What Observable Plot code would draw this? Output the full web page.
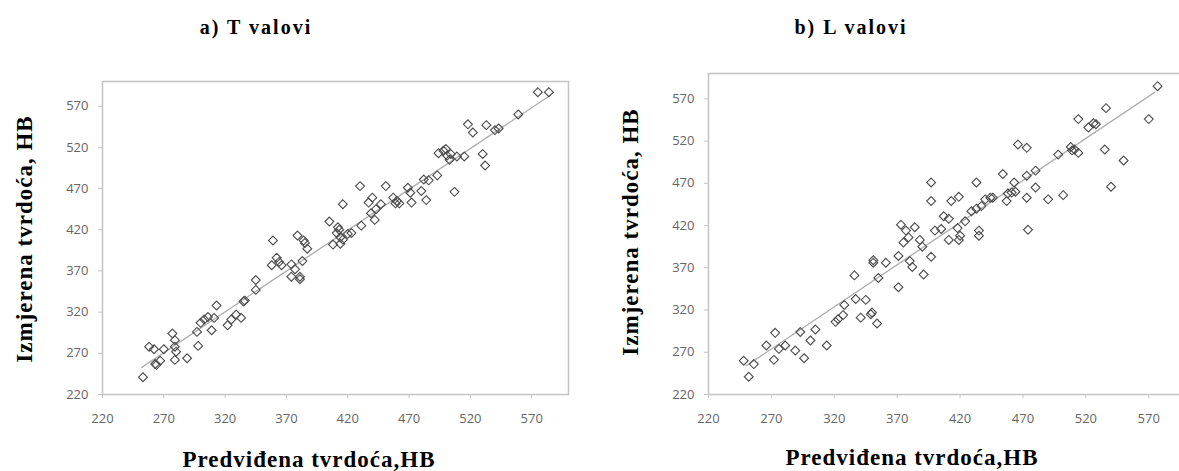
<!DOCTYPE html>
<html><head><meta charset="utf-8">
<script src="https://cdn.jsdelivr.net/npm/d3@7"></script>
<script src="https://cdn.jsdelivr.net/npm/@observablehq/plot@0.6"></script>
<style>
html,body{margin:0;padding:0;background:#fff;overflow:hidden;}
#wrap{position:relative;width:1179px;height:471px;overflow:hidden;background:#fff;}
.lbl{position:absolute;font-family:"Liberation Serif","Times New Roman",serif;font-weight:bold;color:#000;line-height:1;white-space:nowrap;}
.panel{position:absolute;top:0;}
</style></head><body><div id="wrap"></div>
<script>
const tickValues = [220, 270, 320, 370, 420, 470, 520, 570];
const titles = ["a)  T valovi", "b)  L valovi"];
const xLabel = "Predviđena tvrdoća,HB";
const yLabel = "Izmjerena tvrdoća, HB";

// a) T valovi: predicted vs measured hardness
const tPred = [253,258,262,270,263,264,267,277,279,279,280,279,289,298,297,300,303,306,309,311,313,322,325,329,333,335,336,345,345,358,359,362,364,366,374,374,377,379,381,381,383,384,385,387,405,408,411,412,413,414,414,416,416,420,423,430,431,437,439,440,442,443,447,451,457,459,460,462,469,471,472,480,482,484,486,493,494,498,500,501,503,504,507,509,515,518,522,530,532,533,540,543,559,575,584];
const tMeas = [241,278,275,275,257,256,261,294,286,278,272,262,264,279,296,307,311,314,298,313,328,304,311,317,313,333,334,347,359,377,407,386,381,377,378,363,372,413,363,360,382,407,404,397,430,402,416,423,420,403,411,408,451,415,416,473,425,453,440,459,432,445,451,473,459,452,455,452,471,465,453,467,481,456,480,486,513,516,518,510,505,512,466,509,509,548,538,512,498,547,541,543,560,587,587];
const tTrendX = [252, 585];
const tTrendY = [253, 583];

// b) L valovi: predicted vs measured hardness
const lPred = [248,252,256,266,272,273,276,281,289,293,296,301,305,314,321,323,327,328,336,337,341,345,349,350,351,351,354,355,361,371,371,373,375,377,379,380,382,384,388,390,391,397,397,397,400,405,407,411,411,413,418,419,419,420,424,429,433,433,435,435,437,440,444,446,454,457,458,461,463,464,466,473,473,473,474,480,480,490,498,502,508,509,511,514,514,522,526,528,535,536,540,550,570,577];
const lMeas = [260,241,256,278,261,293,274,278,272,294,263,284,297,278,306,309,314,326,361,333,311,332,315,317,376,379,304,358,376,347,384,421,400,414,406,378,371,418,403,395,362,471,449,383,414,416,431,428,403,449,417,454,403,408,425,437,471,440,414,408,443,451,453,453,481,449,458,459,471,460,516,512,479,453,415,485,465,451,504,456,513,509,510,506,546,536,541,540,510,559,466,497,546,585];
const lTrendX = [250, 575];
const lTrendY = [254, 578];

function panel(pred, meas, trendX, trendY, o) {
  const data = pred.map((p, i) => ({pred: p, meas: meas[i]}));
  const trend = trendX.map((x, i) => ({x, y: trendY[i]}));
  return Plot.plot({
    width: o.width, height: 440,
    marginLeft: o.ml, marginRight: o.mr, marginTop: o.mt, marginBottom: 46,
    style: {fontFamily: "'Open Sans', sans-serif", fontSize: "13px", background: "transparent", overflow: "visible"},
    x: {domain: [220, 600]},
    y: {domain: [220, 600]},
    marks: [
      Plot.frame({stroke: "#c4c4c4", strokeWidth: 1.5}),
      Plot.axisX(tickValues, {tickSize: 4, tickPadding: 15, stroke: "#c4c4c4", fill: "#666", label: null}),
      Plot.axisY(tickValues, {tickSize: 4, tickPadding: 10, stroke: "#c4c4c4", fill: "#666", label: null}),
      Plot.line(trend, {x: "x", y: "y", stroke: "#b0b0b0", strokeWidth: 1.4}),
      Plot.dot(data, {x: "pred", y: "meas", symbol: "diamond2", r: 4, stroke: "#4a4a4a", strokeWidth: 1.1, fill: "none"})
    ]
  });
}

const wrap = document.getElementById("wrap");
function place(el, left) { el.classList.add("panel"); el.style.left = left + "px"; wrap.appendChild(el); }
place(panel(tPred, tMeas, tTrendX, tTrendY, {width: 590, ml: 102, mr: 22, mt: 81}), 0);
place(panel(lPred, lMeas, lTrendX, lTrendY, {width: 600, ml: 118, mr: 4, mt: 73}), 590);

function label(text, x, y, size, rotate, ls) {
  const d = document.createElement("div");
  d.className = "lbl";
  d.textContent = text;
  d.style.fontSize = size + "px";
  d.style.letterSpacing = ls + "px";
  d.style.left = x + "px";
  d.style.top = y + "px";
  d.style.transform = rotate ? "translate(-50%,-50%) rotate(-90deg)" : "translateX(-50%)";
  wrap.appendChild(d);
}
label(titles[0], 256, 17, 20, false, 2);
label(titles[1], 851, 17, 20, false, 2);
label(xLabel, 309, 448, 23, false, 1);
label(xLabel, 912, 446, 23, false, 1);
label(yLabel, 24, 239, 23, true, 1);
label(yLabel, 630, 232, 23, true, 1);
</script></body></html>
